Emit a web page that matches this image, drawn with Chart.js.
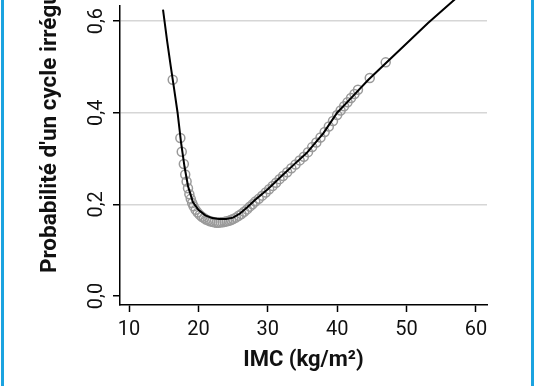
<!DOCTYPE html>
<html><head><meta charset="utf-8">
<script src="https://cdn.jsdelivr.net/npm/chart.js@4"></script>
<style>
html,body{margin:0;padding:0;background:#fff;}
#wrap{position:relative;width:536px;height:386px;overflow:hidden;}
.edge{position:absolute;top:0;width:3px;height:386px;background:#1ba3e0;}
</style></head>
<body><div id="wrap"><canvas id="c" width="536" height="386"></canvas>
<div class="edge" style="left:1px"></div><div class="edge" style="left:531px"></div></div>
<script>
// Fitted curve (IMC -> probability)
const curveBMI  = [14.9,15.5,16.0,16.5,17.0,17.5,18.0,18.5,19.2,20.0,21.0,22.0,23.0,24.0,25.0,26.0,27.0,28.2,30.0,32.0,34.0,35.6,38.0,40.0,42.0,44.5,47.0,50.0,53.1,57.0,59.0];
const curveProb = [0.625,0.556,0.503,0.452,0.400,0.335,0.282,0.240,0.205,0.188,0.176,0.170,0.168,0.168,0.171,0.180,0.193,0.210,0.233,0.262,0.290,0.312,0.355,0.400,0.432,0.472,0.508,0.551,0.596,0.648,0.676];
// Observed points (open circles)
const obsBMI  = [16.3,17.4,17.6,17.9,18.1,18.3,18.5,18.7,18.9,19.1,19.3,19.6,19.9,20.2,20.5,20.8,21.1,21.4,21.7,22.0,22.3,22.6,22.9,23.2,23.5,23.8,24.1,24.4,24.7,25.0,25.4,25.8,26.2,26.6,27.0,27.4,27.8,28.2,28.7,29.2,29.7,30.2,30.7,31.2,31.7,32.2,32.8,33.4,34.0,34.6,35.2,35.8,36.4,37.0,37.6,38.2,38.8,39.4,40.0,40.5,41.0,41.5,42.0,42.5,43.0,44.7,47.0,58.9];
const obsProb = [0.472,0.345,0.315,0.288,0.265,0.250,0.235,0.222,0.212,0.203,0.196,0.188,0.182,0.177,0.173,0.170,0.167,0.165,0.163,0.162,0.161,0.160,0.160,0.161,0.161,0.162,0.163,0.164,0.166,0.168,0.171,0.175,0.179,0.184,0.189,0.195,0.200,0.206,0.212,0.219,0.226,0.233,0.240,0.247,0.255,0.262,0.270,0.279,0.287,0.296,0.304,0.314,0.325,0.335,0.346,0.358,0.370,0.382,0.395,0.405,0.414,0.423,0.432,0.441,0.450,0.476,0.510,0.652];
const xTicks = [10,20,30,40,50,60];
const yTicks = [0,0.2,0.4,0.6];
const yTickLabels = ['0,0','0,2','0,4','0,6'];
const xTitle = 'IMC (kg/m²)';
const yTitle = "Probabilité d'un cycle irrégulier";

const curve = curveBMI.map((x,i)=>({x:x,y:curveProb[i]}));
const obs = obsBMI.map((x,i)=>({x:x,y:obsProb[i]}));

// y-axis title: the original axis ran above the visible crop, so its title is anchored low
const yTitlePlugin = {
  id:'yTitle',
  afterDraw(chart){
    const ctx = chart.ctx;
    const y = chart.scales.y;
    ctx.save();
    ctx.translate(50, y.getPixelForValue(0.05));
    ctx.rotate(-Math.PI/2);
    ctx.font = 'bold 22.5px Roboto';
    ctx.fillStyle = '#111';
    ctx.textAlign = 'left';
    ctx.textBaseline = 'middle';
    ctx.fillText(yTitle, 0, 0);
    ctx.restore();
  }
};

new Chart(document.getElementById('c'), {
  type:'scatter',
  data:{datasets:[
    {data:curve, showLine:true, borderColor:'#000', borderWidth:2, pointRadius:0, tension:0, fill:false, clip:false},
    {data:obs, showLine:false, pointStyle:'circle', pointRadius:4.5, borderColor:'#9a9a9a', backgroundColor:'rgba(0,0,0,0)', borderWidth:1.5, clip:false}
  ]},
  plugins:[yTitlePlugin],
  options:{
    responsive:false, animation:false,
    layout:{padding:{top:0,left:0,right:49,bottom:0}},
    plugins:{legend:{display:false},tooltip:{enabled:false}},
    scales:{
      x:{type:'linear',min:8.7,max:61.6,
        afterBuildTicks:s=>{s.ticks=xTicks.map(v=>({value:v}));},
        afterFit:s=>{s.height=81;},
        border:{display:true,color:'#000',width:1.5},
        grid:{display:true,drawOnChartArea:false,drawTicks:true,tickLength:7,tickColor:'#000',tickWidth:1.5},
        ticks:{color:'#111',font:{family:'Roboto',size:20},padding:6,maxRotation:0,autoSkip:false,callback:v=>String(v)},
        title:{display:true,text:xTitle,color:'#111',font:{family:'Roboto',size:22,weight:'bold'},padding:{top:0,bottom:12}}
      },
      y:{type:'linear',min:-0.0197,max:0.633,
        afterBuildTicks:s=>{s.ticks=yTicks.map(v=>({value:v}));},
        afterFit:s=>{s.width=120; s.paddingTop=0; s.paddingBottom=0;},
        border:{display:true,color:'#000',width:1.5},
        grid:{color:ctx=>(ctx.tick&&ctx.tick.value===0)?'rgba(0,0,0,0)':'#d6d6d6',lineWidth:1.5,drawTicks:true,tickLength:7,tickColor:'#000',tickWidth:1.5},
        ticks:{color:'#111',font:{family:'Roboto',size:20},minRotation:90,maxRotation:90,crossAlign:'center',padding:3,autoSkip:false,
          callback:(v)=>yTickLabels[yTicks.indexOf(Math.round(v*10)/10)]},
        title:{display:false}
      }
    }
  }
});
</script></body></html>
